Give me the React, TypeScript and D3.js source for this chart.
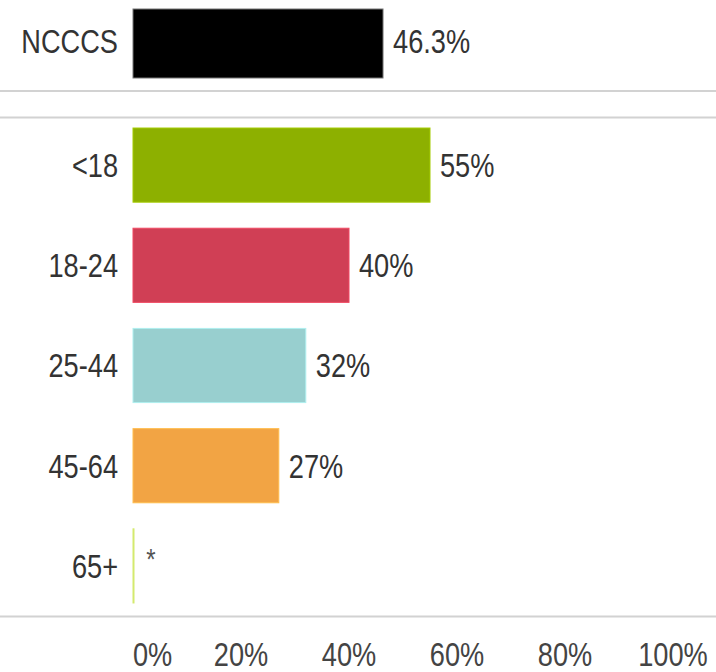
import React, { useEffect, useRef } from 'react';
import * as d3 from 'd3';

const totalLabel = "NCCCS";
const totalValue = 46.3;
const totalValueText = "46.3%";

const ageGroups = ["<18", "18-24", "25-44", "45-64", "65+"];
const ageValues = [55, 40, 32, 27, 0];
const ageValueText = ["55%", "40%", "32%", "27%", "*"];
const ageColors = ["#8db000", "#d03f55", "#98cfcf", "#f2a444", "#d4ea6e"];

const xTicks = [0, 20, 40, 60, 80, 100];

const FONT = "'Liberation Sans', Arial, sans-serif";
const SQUEEZE = 0.8; // the source font is a condensed sans

type Sel = d3.Selection<SVGGElement, unknown, null, undefined> | d3.Selection<SVGSVGElement, unknown, null, undefined>;

// condensed text, drawn at (tx, ty) and squeezed horizontally
function narrowText(parent: Sel, tx: number, ty: number, str: string, anchor: string, size = 34, fill = "#333") {
  return (parent as any).append("text")
    .attr("transform", `translate(${tx},${ty}) scale(${SQUEEZE},1)`)
    .attr("dy", "0.35em")
    .attr("text-anchor", anchor)
    .attr("font-family", FONT)
    .attr("font-size", size)
    .attr("fill", fill)
    .text(str);
}

export default function App() {
  const svgRef = useRef<SVGSVGElement>(null);

  useEffect(() => {
    document.body.style.margin = "0";
    if (!svgRef.current) return;

    const svg = d3.select(svgRef.current);
    svg.selectAll("*").remove();

    const width = 716;

    const x = d3.scaleLinear().domain([0, 100]).range([133, 673]);

    const yTotal = d3.scaleBand<string>().domain([totalLabel]).range([9, 78]).padding(0);
    const y = d3.scaleBand<string>()
      .domain(ageGroups)
      .range([115, 616])
      .paddingInner(0.26)
      .paddingOuter(0.13);

    // separator lines
    [91, 117.5, 616.5].forEach(ly => {
      svg.append("line")
        .attr("x1", 0)
        .attr("x2", width)
        .attr("y1", ly)
        .attr("y2", ly)
        .attr("stroke", "#d2d2d2")
        .attr("stroke-width", 2);
    });

    // total bar
    svg.append("rect")
      .attr("x", x(0))
      .attr("y", yTotal(totalLabel)!)
      .attr("width", x(totalValue) - x(0))
      .attr("height", yTotal.bandwidth())
      .attr("fill", "#000")
      .attr("stroke", "#777")
      .attr("stroke-width", 1);

    const ty = yTotal(totalLabel)! + yTotal.bandwidth() / 2 - 2;
    narrowText(svg, 118, ty, totalLabel, "end");
    narrowText(svg, x(totalValue) + 10, ty, totalValueText, "start");

    // age bars
    const g = svg.append("g");
    ageGroups.forEach((grp, i) => {
      const yy = y(grp)!;
      const raw = x(ageValues[i]) - x(0);
      const w = Math.max(raw, 1);
      g.append("rect")
        .attr("x", x(0))
        .attr("y", yy)
        .attr("width", w)
        .attr("height", y.bandwidth())
        .attr("fill", ageColors[i])
        .attr("stroke", raw > 1 ? d3.color(ageColors[i])!.brighter(0.4).toString() : ageColors[i])
        .attr("stroke-width", 1);

      const cy = yy + y.bandwidth() / 2;
      narrowText(g, 118, cy, grp, "end");

      const isStar = ageValueText[i] === "*";
      if (isStar) {
        narrowText(g, x(ageValues[i]) + 18, cy - 7, "*", "middle", 30, "#555");
      } else {
        narrowText(g, x(ageValues[i]) + 10, cy, ageValueText[i], "start");
      }
    });

    // x axis labels (kept between plot start and svg edge)
    const axis = svg.append("g");
    xTicks.forEach(t => {
      const txt = narrowText(axis, 0, 654, `${t}%`, "start", 34, "#444");
      const node = txt.node() as SVGTextElement;
      const tw = node.getComputedTextLength() * SQUEEZE;
      const left = Math.min(Math.max(x(t) - tw / 2, x(0)), width - 3 - tw);
      txt.attr("transform", `translate(${left},654) scale(${SQUEEZE},1)`);
    });
  }, []);

  return (
    <svg
      ref={svgRef}
      width={716}
      height={672}
      viewBox="0 0 716 672"
      style={{ display: "block", background: "#fff" }}
    />
  );
}
